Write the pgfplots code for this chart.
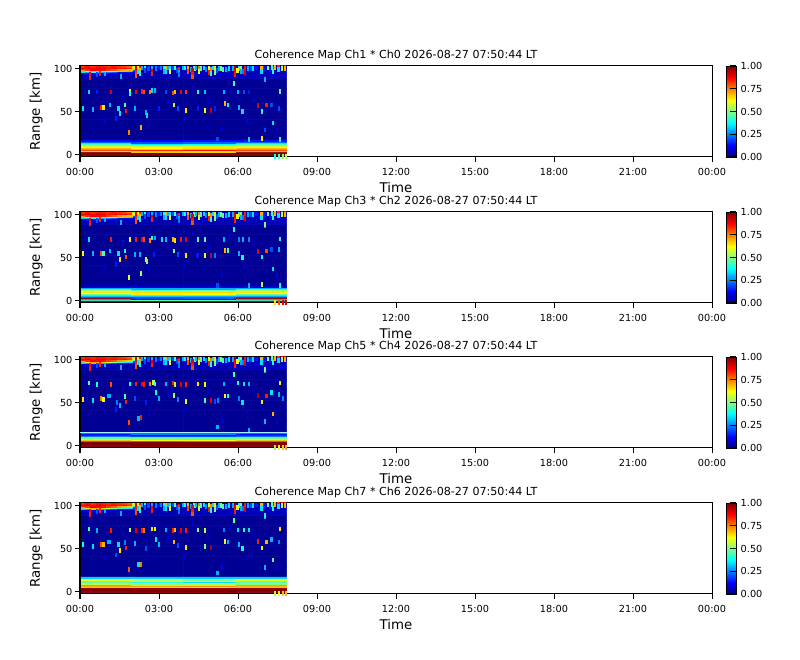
\documentclass[border=0pt]{standalone}
\usepackage{fontspec}
\setmainfont{DejaVu Sans}
\usepackage{pgfplots}
\usepackage{pgfplotstable}
\pgfplotsset{compat=1.18}

\definecolor{paleline}{rgb}{.65,.95,1}

% one radar cell, as wide as a sample and a few km tall
\pgfdeclareplotmark{cell}{\pgfpathrectangle{\pgfpoint{-.8pt}{-1.8pt}}{\pgfpoint{1.6pt}{3.6pt}}\pgfusepathqfill}
% one thin range gate across the whole of the data
\pgfdeclareplotmark{gate}{\pgfpathrectangle{\pgfpoint{-77.6pt}{-.4pt}}{\pgfpoint{155.2pt}{.8pt}}\pgfusepathqfill}

% background, all panels (x in hours, y in km)
\pgfplotstableread[row sep=crcr]{
x y v\\
1.962 23 .02\\ 5.886 23 .02\\
1.962 35 .02\\ 5.886 35 .02\\
1.962 47 .02\\ 5.886 47 .02\\
1.962 59 .02\\ 5.886 59 .02\\
1.962 71 .02\\ 5.886 71 .02\\
1.962 83 .02\\ 5.886 83 .02\\
1.962 95 .05\\ 5.886 95 .06\\
1.962 107 .07\\ 5.886 107 .08\\
}\bgcells

% red cap at the top, first two hours
\pgfplotstableread[row sep=crcr]{
x y v\\
.1 93.5 .05\\ .3 93.5 .05\\ .5 93.5 .05\\ .7 93.5 .05\\ .9 93.5 .05\\ 1.1 93.5 .04\\ 1.3 93.5 .04\\ 1.5 93.5 .04\\ 1.7 93.5 .04\\ 1.9 93.5 .04\\ 2.1 93.5 .04\\
.1 95 .12\\ .3 95 .1\\ .5 95 .12\\ .7 95 .1\\ .9 95 .1\\ 1.1 95 .08\\ 1.3 95 .08\\ 1.5 95 .06\\ 1.7 95 .06\\ 1.9 95 .06\\ 2.1 95 .05\\
.1 96.5 .35\\ .3 96.5 .3\\ .5 96.5 .4\\ .7 96.5 .35\\ .9 96.5 .3\\ 1.1 96.5 .25\\ 1.3 96.5 .22\\ 1.5 96.5 .15\\ 1.7 96.5 .14\\ 1.9 96.5 .15\\ 2.1 96.5 .1\\
.1 98 .7\\ .3 98 .65\\ .5 98 .72\\ .7 98 .7\\ .9 98 .68\\ 1.1 98 .55\\ 1.3 98 .5\\ 1.5 98 .42\\ 1.7 98 .4\\ 1.9 98 .35\\ 2.1 98 .2\\
.1 99.5 .85\\ .3 99.5 .83\\ .5 99.5 .88\\ .7 99.5 .87\\ .9 99.5 .86\\ 1.1 99.5 .82\\ 1.3 99.5 .78\\ 1.5 99.5 .72\\ 1.7 99.5 .7\\ 1.9 99.5 .68\\ 2.1 99.5 .45\\
.1 101 .88\\ .3 101 .9\\ .5 101 .87\\ .7 101 .9\\ .9 101 .89\\ 1.1 101 .86\\ 1.3 101 .87\\ 1.5 101 .85\\ 1.7 101 .87\\ 1.9 101 .83\\ 2.1 101 .62\\
.1 102.5 .82\\ .3 102.5 .86\\ .5 102.5 .83\\ .7 102.5 .86\\ .9 102.5 .85\\ 1.1 102.5 .83\\ 1.3 102.5 .85\\ 1.5 102.5 .83\\ 1.7 102.5 .81\\ 1.9 102.5 .78\\ 2.1 102.5 .55\\
}\capcells

% streaks hanging from the top, all panels
\pgfplotstableread[row sep=crcr]{
x y v\\
.39 93 .88\\ .39 90 .85\\ .77 95 .85\\ .95 94 .3\\ 1.57 91 .3\\ .66 93 .2\\
2.14 100 .9\\ 2.14 96 .85\\ 2.14 92 .8\\ 2.22 101 .6\\ 2.22 97 .35\\ 2.29 101 .85\\ 2.29 98 .7\\ 2.29 94 .4\\
2.35 101 .3\\ 2.6 100 .2\\ 2.9 100 .25\\ 3.0 101 .15\\ 3.35 101 .3\\ 3.6 101 .45\\ 3.7 98 .2\\ 4.0 101 .4\\ 4.2 99 .3\\ 4.35 100 .45\\ 4.7 101 .35\\ 4.8 99 .25\\
5.05 101 .35\\ 5.2 98 .2\\ 5.35 100 .5\\ 5.55 99 .3\\ 5.8 100 .3\\ 6.05 100 .4\\ 6.2 97 .25\\ 6.5 100 .2\\ 6.7 101 .15\\ 7.0 100 .2\\ 7.2 99 .15\\
2.48 101 .4\\ 2.48 98 .2\\ 2.75 101 .3\\ 2.75 97 .9\\ 2.75 94 .85\\ 3.09 101 .25\\ 3.2 100 .4\\ 3.2 97 .3\\
3.28 100 .7\\ 3.28 97 .35\\ 3.43 100 .35\\ 3.43 97 .6\\ 3.54 101 .2\\ 3.77 99 .85\\ 3.77 96 .3\\ 3.77 93 .25\\
3.92 101 .3\\ 4.11 101 .7\\ 4.11 97 .8\\ 4.27 98 .9\\ 4.27 94 .85\\ 4.27 90.5 .8\\ 4.42 101 .3\\ 4.53 101 .75\\ 4.53 97 .6\\
4.61 100 .45\\ 4.91 100 .6\\ 4.91 96 .85\\ 4.99 99 .75\\ 4.99 95 .4\\ 5.14 100 .65\\ 5.14 96 .5\\ 5.29 100 .3\\ 5.44 99 .45\\
5.67 100 .35\\ 5.9 101 .95\\ 5.9 97 .9\\ 5.9 93 .85\\ 5.98 98 .6\\ 6.13 101 .5\\ 6.13 97 .3\\ 6.28 100 .85\\ 6.28 96 .9\\
6.39 100 .3\\ 6.58 100 .35\\ 6.89 100 .7\\ 6.89 96.5 .35\\ 7.04 100 .15\\ 7.04 88 .3\\ 7.15 101 .5\\ 7.34 101 .85\\ 7.34 97 .4\\
7.3 102 .45\\ 7.42 102 .7\\ 7.54 102 .85\\ 7.66 102 .88\\ 7.78 102 .9\\ 7.54 99.5 .35\\ 7.66 100 .55\\ 7.78 100.5 .7\\
.95 40 .08\\ 1.62 68 .08\\ 2.63 37 .08\\ 3.35 62 .1\\ 3.95 41 .08\\ 4.3 78 .08\\ 4.85 63 .08\\ 5.4 30 .1\\ 5.7 75 .08\\ 6.35 40 .08\\ 6.6 65 .08\\ 7.48 28 .08\\
}\topstreaks

% Ch1 * Ch0
\pgfplotstableread[row sep=crcr]{
x y v\\
.981 -1.65 .05\\ 2.943 -1.65 .06\\ 4.905 -1.65 .05\\ 6.867 -1.65 .08\\
.981 -.15 1\\ 2.943 -.15 1\\ 4.905 -.15 1\\ 6.867 -.15 1\\
.981 1.35 1\\ 2.943 1.35 1\\ 4.905 1.35 1\\ 6.867 1.35 1\\
.981 2.85 1\\ 2.943 2.85 1\\ 4.905 2.85 1\\ 6.867 2.85 1\\
.981 4.35 .66\\ 2.943 4.35 .68\\ 4.905 4.35 .66\\ 6.867 4.35 .7\\
.981 5.85 .82\\ 2.943 5.85 .84\\ 4.905 5.85 .86\\ 6.867 5.85 .82\\
.981 7.35 .7\\ 2.943 7.35 .68\\ 4.905 7.35 .72\\ 6.867 7.35 .7\\
.981 8.85 .64\\ 2.943 8.85 .63\\ 4.905 8.85 .65\\ 6.867 8.85 .64\\
.981 10.35 .58\\ 2.943 10.35 .57\\ 4.905 10.35 .59\\ 6.867 10.35 .58\\
.981 11.85 .5\\ 2.943 11.85 .48\\ 4.905 11.85 .5\\ 6.867 11.85 .5\\
.981 13.35 .38\\ 2.943 13.35 .36\\ 4.905 13.35 .38\\ 6.867 13.35 .38\\
.981 14.85 .22\\ 2.943 14.85 .2\\ 4.905 14.85 .22\\ 6.867 14.85 .22\\
.981 16.35 .14\\ 2.943 16.35 .13\\ 4.905 16.35 .14\\ 6.867 16.35 .14\\
}\lowA
\pgfplotstableread[row sep=crcr]{
x y v\\
.35 73 .35\\ .66 73 .15\\ 1.19 73 .9\\ 1.91 74 .6\\ 1.91 71 .4\\ 2.14 73 .88\\ 2.37 74 .85\\ 2.44 73 .8\\ 2.67 73 .75\\ 2.75 75 .35\\ 2.86 75 .3\\
3.28 73 .2\\ 3.54 72 .8\\ 3.62 73 .7\\ 3.85 73 .88\\ 4.04 73 .82\\ 4.49 73 .4\\ 4.76 73 .32\\ 5.48 73 .3\\ 6.01 73 .3\\ 6.24 73 .2\\ 6.43 73 .15\\ 7.61 74 .45\\
.13 54 .35\\ .51 53 .3\\ .81 55 .85\\ .89 55 .65\\ 1.15 58 .3\\ 1.46 54 .35\\ 1.53 47.7 .35\\ 1.72 58 .45\\ 1.76 51 .85\\ 2.1 54 .3\\ 2.52 49 .3\\ 2.56 46 .35\\
3.01 54 .15\\ 3.58 58 .55\\ 3.73 54 .2\\ 4.04 52 .65\\ 4.49 54 .15\\ 4.76 52 .62\\ 4.99 52 .92\\ 5.14 54 .15\\ 5.52 60 .7\\ 5.63 58 .4\\ 6.05 55 .3\\ 6.17 50 .35\\
6.77 57 .9\\ 6.92 50 .4\\ 7.08 58 .85\\ 7.27 58 .2\\ 7.57 54 .2\\
1.87 26 .75\\ 2.33 32 .7\\ 1.38 42 .15\\ 7.34 37 .35\\ 7.04 29 .2\\ 6.92 19.4 .65\\ 5.86 83 .45\\ 7.04 88 .3\\
7.4 -1.7 .4\\ 7.55 -1.7 .45\\ 7.7 -1.7 .5\\ 7.82 -1.7 .55\\
5.22 18.5 .2\\ 6.43 18 .35\\ 7.6 17.5 .4\\
}\spotsA

% Ch3 * Ch2
\pgfplotstableread[row sep=crcr]{
x y v\\
.981 -1.65 .06\\ 2.943 -1.65 .06\\ 4.905 -1.65 .07\\ 6.867 -1.65 .08\\
.981 -.15 .17\\ 2.943 -.15 .16\\ 4.905 -.15 .17\\ 6.867 -.15 .18\\
.981 1.35 .45\\ 2.943 1.35 .47\\ 4.905 1.35 .45\\ 6.867 1.35 .46\\
.981 2.85 .98\\ 2.943 2.85 .97\\ 4.905 2.85 .98\\ 6.867 2.85 .96\\
.981 4.35 .22\\ 2.943 4.35 .2\\ 4.905 4.35 .22\\ 6.867 4.35 .2\\
.981 5.85 .32\\ 2.943 5.85 .32\\ 4.905 5.85 .3\\ 6.867 5.85 .3\\
.981 7.35 .45\\ 2.943 7.35 .42\\ 4.905 7.35 .45\\ 6.867 7.35 .45\\
.981 8.85 .62\\ 2.943 8.85 .64\\ 4.905 8.85 .62\\ 6.867 8.85 .6\\
.981 10.35 .65\\ 2.943 10.35 .66\\ 4.905 10.35 .66\\ 6.867 10.35 .65\\
.981 11.85 .58\\ 2.943 11.85 .56\\ 4.905 11.85 .58\\ 6.867 11.85 .58\\
.981 13.35 .45\\ 2.943 13.35 .44\\ 4.905 13.35 .46\\ 6.867 13.35 .45\\
.981 14.85 .3\\ 2.943 14.85 .3\\ 4.905 14.85 .3\\ 6.867 14.85 .3\\
.981 16.35 .08\\ 2.943 16.35 .08\\ 4.905 16.35 .08\\ 6.867 16.35 .08\\
}\lowB
\pgfplotstableread[row sep=crcr]{
x y v\\
.35 71 .35\\ 1.19 71 .85\\ 1.91 71 .6\\ 2.14 71 .85\\ 2.37 71 .88\\ 2.44 71 .8\\ 2.67 70 .75\\ 2.75 73 .4\\ 2.86 73 .3\\ 3.13 71 .35\\ 3.28 71 .3\\
3.54 71 .7\\ 3.62 70 .65\\ 3.85 71 .85\\ 4.04 71 .9\\ 4.49 71 .45\\ 4.76 71 .45\\ 5.48 71 .3\\ 6.05 71 .25\\ 6.2 71 .3\\ 6.43 71 .25\\ 7.61 72 .4\\
.13 55 .6\\ .51 55 .3\\ .81 55 .8\\ .89 55 .45\\ 1.15 58 .3\\ 1.46 55 .35\\ 1.53 48 .65\\ 1.72 58 .4\\ 1.76 51 .8\\ 2.1 54 .3\\ 2.29 54 .3\\ 2.52 48 .6\\ 2.56 46 .5\\
2.82 54 .15\\ 3.58 58 .5\\ 3.73 54 .2\\ 4.04 53 .65\\ 4.46 53 .15\\ 4.76 53 .6\\ 4.99 53 .92\\ 5.14 53 .25\\ 5.52 59 .7\\ 5.63 59 .45\\ 6.05 55 .3\\ 6.17 50 .4\\
6.77 57 .9\\ 6.92 51 .4\\ 7.08 58 .8\\ 7.27 60 .2\\ 7.57 60 .3\\
1.87 27 .6\\ 2.33 32 .55\\ 1.38 42 .15\\ 7.34 37 .35\\ 6.92 19.5 .55\\ 5.86 83 .4\\ 7.04 89 .5\\
7.4 -1.5 .65\\ 7.55 -1.5 .8\\ 7.7 -1.5 .9\\ 7.82 -1.5 .92\\
5.22 18 .2\\ 6.43 17.5 .3\\ 7.6 17.5 .4\\
}\spotsB

% Ch5 * Ch4
\pgfplotstableread[row sep=crcr]{
x y v\\
.981 -1.65 .03\\ 2.943 -1.65 .04\\ 4.905 -1.65 .03\\ 6.867 -1.65 .05\\
.981 -.15 .98\\ 2.943 -.15 .98\\ 4.905 -.15 .98\\ 6.867 -.15 .98\\
.981 1.35 1\\ 2.943 1.35 1\\ 4.905 1.35 1\\ 6.867 1.35 1\\
.981 2.85 1\\ 2.943 2.85 1\\ 4.905 2.85 1\\ 6.867 2.85 1\\
.981 4.35 1\\ 2.943 4.35 1\\ 4.905 4.35 1\\ 6.867 4.35 1\\
.981 5.85 .8\\ 2.943 5.85 .82\\ 4.905 5.85 .8\\ 6.867 5.85 .8\\
.981 7.35 .6\\ 2.943 7.35 .62\\ 4.905 7.35 .62\\ 6.867 7.35 .6\\
.981 8.85 .47\\ 2.943 8.85 .48\\ 4.905 8.85 .47\\ 6.867 8.85 .48\\
.981 10.35 .42\\ 2.943 10.35 .4\\ 4.905 10.35 .42\\ 6.867 10.35 .4\\
.981 11.85 .2\\ 2.943 11.85 .2\\ 4.905 11.85 .2\\ 6.867 11.85 .2\\
.981 13.35 .12\\ 2.943 13.35 .12\\ 4.905 13.35 .12\\ 6.867 13.35 .12\\
.981 14.85 .25\\ 2.943 14.85 .25\\ 4.905 14.85 .25\\ 6.867 14.85 .25\\
.981 16.35 .03\\ 2.943 16.35 .03\\ 4.905 16.35 .03\\ 6.867 16.35 .03\\
}\lowC
\pgfplotstableread[row sep=crcr]{
x y v\\
.35 73 .45\\ .66 71 .4\\ 1.19 71 .8\\ 1.91 72 .4\\ 2.14 72 .85\\ 2.37 72 .88\\ 2.44 71 .85\\ 2.67 72 .75\\ 2.79 74 .55\\ 2.86 72 .45\\ 3.28 72 .3\\
3.54 73 .85\\ 3.62 71 .55\\ 3.85 71 .9\\ 4.04 71 .85\\ 4.49 72 .65\\ 4.76 71 .6\\ 5.48 72 .3\\ 6.01 73 .4\\ 6.24 72 .35\\ 6.43 72 .3\\ 7.61 73 .65\\
.13 54 .65\\ .51 53 .35\\ .81 55 .75\\ .89 54 .6\\ 1.08 58 .3\\ 1.15 58 .3\\ 1.42 50 .25\\ 1.72 57 .45\\ 1.76 51 .85\\ 1.53 47 .3\\ 2.1 55 .2\\ 2.52 50 .15\\
2.9 62 .4\\ 3.01 55 .3\\ 3.58 59 .55\\ 3.73 54 .25\\ 4.04 52 .6\\ 4.76 53 .45\\ 4.99 53 .9\\ 5.14 52 .2\\ 5.25 53 .25\\ 5.52 58 .6\\ 5.63 58 .4\\ 6.05 55 .25\\ 6.17 50 .35\\
6.77 59 .95\\ 6.92 51 .65\\ 7.08 58 .85\\ 7.27 62 .35\\ 7.57 60 .3\\ 7.72 55 .25\\
1.87 27 .8\\ 2.33 33 .85\\ 2.22 32 .3\\ 1.38 42 .15\\ 7.34 37 .7\\ 7.04 28 .3\\ 5.22 22 .3\\ 6.43 18 .3\\ 5.86 83 .45\\ 7.04 89 .5\\
7.4 -1.5 .5\\ 7.55 -1.5 .6\\ 7.7 -1.5 .68\\ 7.82 -1.5 .72\\
}\spotsC
% pale gate over the band
\pgfplotstableread[row sep=crcr]{
x y v\\
3.925 15.2 .35\\
}\paleC

% Ch7 * Ch6
\pgfplotstableread[row sep=crcr]{
x y v\\
.981 -1.65 .06\\ 2.943 -1.65 .05\\ 4.905 -1.65 .06\\ 6.867 -1.65 .08\\
.981 -.15 .98\\ 2.943 -.15 .98\\ 4.905 -.15 .98\\ 6.867 -.15 .98\\
.981 1.35 1\\ 2.943 1.35 1\\ 4.905 1.35 1\\ 6.867 1.35 1\\
.981 2.85 1\\ 2.943 2.85 1\\ 4.905 2.85 1\\ 6.867 2.85 1\\
.981 4.35 .98\\ 2.943 4.35 .98\\ 4.905 4.35 .98\\ 6.867 4.35 .98\\
.981 5.85 .65\\ 2.943 5.85 .66\\ 4.905 5.85 .64\\ 6.867 5.85 .66\\
.981 7.35 .74\\ 2.943 7.35 .72\\ 4.905 7.35 .74\\ 6.867 7.35 .72\\
.981 8.85 .55\\ 2.943 8.85 .52\\ 4.905 8.85 .55\\ 6.867 8.85 .5\\
.981 10.35 .65\\ 2.943 10.35 .63\\ 4.905 10.35 .6\\ 6.867 10.35 .65\\
.981 11.85 .42\\ 2.943 11.85 .4\\ 4.905 11.85 .35\\ 6.867 11.85 .42\\
.981 13.35 .62\\ 2.943 13.35 .62\\ 4.905 13.35 .6\\ 6.867 13.35 .62\\
.981 14.85 .55\\ 2.943 14.85 .55\\ 4.905 14.85 .5\\ 6.867 14.85 .55\\
.981 16.35 .33\\ 2.943 16.35 .33\\ 4.905 16.35 .33\\ 6.867 16.35 .33\\
}\lowD
\pgfplotstableread[row sep=crcr]{
x y v\\
.35 73 .45\\ .66 71 .3\\ 1.19 71 .85\\ 1.91 72 .55\\ 2.14 71 .9\\ 2.37 71 .85\\ 2.44 71 .75\\ 2.75 73 .65\\ 2.86 73 .6\\ 3.28 72 .3\\
3.54 71 .85\\ 3.62 72 .7\\ 3.85 71 .9\\ 4.04 71 .85\\ 4.49 72 .5\\ 4.76 71 .55\\ 5.48 72 .25\\ 6.01 72 .35\\ 6.24 72 .4\\ 6.43 72 .35\\ 7.61 73 .65\\
.13 55 .4\\ .51 53 .35\\ .81 55 .8\\ .89 55 .7\\ 1.08 58 .3\\ 1.15 58 .3\\ 1.46 55 .35\\ 1.53 48 .65\\ 1.72 57 .25\\ 1.76 51 .85\\ 2.1 56 .3\\ 2.52 50 .2\\
2.9 61 .35\\ 3.01 55 .3\\ 3.58 58 .7\\ 3.73 54 .2\\ 4.04 52 .65\\ 4.76 53 .5\\ 4.99 52 .95\\ 5.52 59 .6\\ 5.63 58 .3\\ 6.05 55 .3\\ 6.17 50 .4\\
6.77 59 .85\\ 6.92 51 .65\\ 7.08 58 .7\\ 7.27 61 .3\\ 7.57 58 .25\\
1.87 26 .8\\ 2.33 32 .75\\ 2.22 32 .35\\ 1.38 43 .2\\ 7.34 37 .45\\ 7.04 28 .3\\ 5.22 22 .3\\ 5.86 83 .5\\ 7.04 89 .4\\
7.4 -1.7 .55\\ 7.55 -1.7 .62\\ 7.7 -1.7 .68\\ 7.82 -1.7 .7\\
}\spotsD

\pgfplotsset{
  /pgf/number format/assume math mode=true,
  coh/.style={
    scale only axis, width=474pt, height=68.25pt,
    anchor=south west,
    xmin=0, xmax=24, ymin=-2.4, ymax=103.3,
    axis on top, axis line style={line width=.75pt},
    xtick={0,3,...,24},
    xticklabels={00:00,03:00,06:00,09:00,12:00,15:00,18:00,21:00,00:00},
    ytick={0,50,100},
    xtick pos=bottom, ytick pos=left,
    tick align=outside,
    major tick length=3.65pt,
    tick style={black,line width=.75pt},
    tick label style={font=\fontsize{7.3}{9}\selectfont},
    xticklabel style={yshift=-1.5pt},
    yticklabel style={xshift=1.5pt},
    xlabel=Time, ylabel={Range [km]},
    label style={font=\fontsize{10}{12}\selectfont, inner sep=0pt},
    xlabel style={at={(axis description cs:0.5,0)}, anchor=north, yshift=-18.75pt},
    ylabel style={at={(axis description cs:0,0.5)}, anchor=south, yshift=27.75pt},
    title style={font=\fontsize{8.33}{10}\selectfont, at={(axis description cs:0.5,1)}, anchor=south, yshift=-2.5pt, inner sep=0pt},
    colormap/jet, point meta min=0, point meta max=1,
    colorbar,
    colorbar style={
      at={(1.02215,1)}, anchor=north west, xshift=0pt, width=7.5pt,
      ytick={0,.25,.5,.75,1},
      yticklabel style={/pgf/number format/fixed, /pgf/number format/fixed zerofill, /pgf/number format/precision=2},
      ytick pos=right, yticklabel pos=right,
      ylabel={}, xlabel={},
    },
  },
  cells/.style={matrix plot*, point meta=explicit, mesh/cols=#1},
  spots/.style={scatter, only marks, point meta=explicit, mark=cell,
    scatter/use mapped color={draw=none, fill=mapped color}},
  gateline/.style={scatter, only marks, point meta=explicit, mark=gate,
    scatter/use mapped color={draw=none, fill=paleline}},
}

% #5: anything extra to plot in that panel
\newcommand{\panel}[5]{
  \begin{axis}[coh, at={(60pt,#1)}, title={Coherence Map #2 2026-08-27 07:50:44 LT}]
    \addplot[cells=2] table[x=x, y=y, meta=v] {\bgcells};
    \addplot[cells=4] table[x=x, y=y, meta=v] {#3};
    \addplot[cells=11] table[x=x, y=y, meta=v] {\capcells};
    \addplot[spots] table[x=x, y=y, meta=v] {\topstreaks};
    \addplot[spots] table[x=x, y=y, meta=v] {#4};
    #5
  \end{axis}
}

\begin{document}
\begin{tikzpicture}
  \path[use as bounding box] (0,0) rectangle (600pt,495pt);
  \panel{377.25pt}{Ch1 * Ch0}{\lowA}{\spotsA}{}
  \panel{267.75pt}{Ch3 * Ch2}{\lowB}{\spotsB}{}
  \panel{159pt}{Ch5 * Ch4}{\lowC}{\spotsC}{\addplot[gateline] table[x=x, y=y, meta=v] {\paleC};}
  \panel{49.5pt}{Ch7 * Ch6}{\lowD}{\spotsD}{}
\end{tikzpicture}
\end{document}
